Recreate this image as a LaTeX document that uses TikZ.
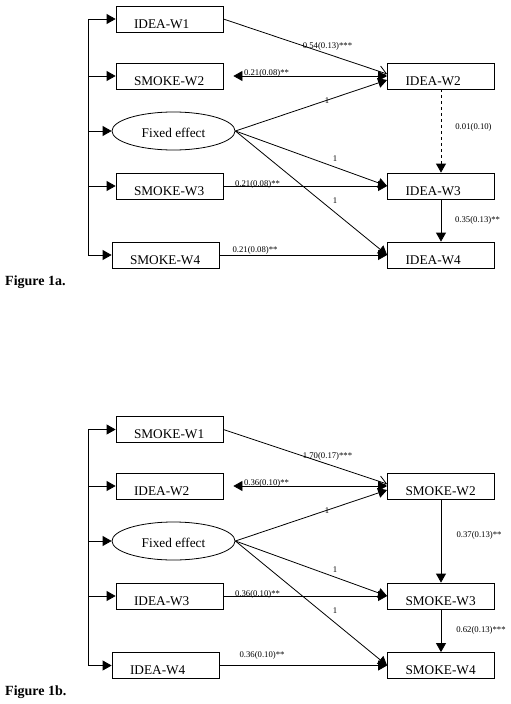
\documentclass[tikz,border=0pt]{standalone}
\usepackage{fontspec}
\setmainfont{Liberation Serif}
\usetikzlibrary{arrows.meta,shapes.geometric}
\newcommand{\vlab}[1]{\makebox[71pt][l]{#1}}
\tikzset{
  var/.style={draw, line width=0.8pt, minimum width=107pt, minimum height=26pt,
    inner xsep=18pt, inner ysep=4pt, text height=18pt, text depth=0pt,
    font=\fontsize{13.3}{14}\selectfont},
  fix/.style={draw, ellipse, line width=0.8pt, minimum width=123pt, minimum height=38pt,
    inner sep=0pt, text height=12pt, text depth=0pt, font=\fontsize{13.3}{14}\selectfont},
  coef/.style={inner sep=0pt, font=\fontsize{8.7}{10}\selectfont},
  path/.style={line width=0.8pt, -{Triangle[length=9pt,width=10pt]}},
  figlab/.style={anchor=base west, inner sep=0pt, font=\fontsize{14}{16}\selectfont\bfseries}
}
\begin{document}
\begin{tikzpicture}[x=1pt,y=-1pt]
    \useasboundingbox (0,0) rectangle (511,704);
    % Figure 1a
    \node[var] (IW1a) at (169.5,19) {\vlab{IDEA-W1}};
    \node[var] (SW2a) at (169.5,76) {\vlab{SMOKE-W2}};
    \node[fix] (FEa) at (173.5,131) {Fixed effect};
    \node[var] (SW3a) at (169.5,186) {\vlab{SMOKE-W3}};
    \node[var] (SW4a) at (165.5,255) {\vlab{SMOKE-W4}};
    \node[var] (IW2a) at (441,76) {\vlab{IDEA-W2}};
    \node[var] (IW3a) at (441,186) {\vlab{IDEA-W3}};
    \node[var] (IW4a) at (441,255) {\vlab{IDEA-W4}};
    \coordinate (Ta) at (88,19);
    \coordinate (Ba) at (88,255);
    \draw [line width=0.8pt] (Ta) -- (Ba);
    \draw [path] (Ta) -- (IW1a);
    \draw [path] (SW2a.west -| Ta) -- (SW2a.west);
    \draw [path] (FEa.west -| Ta) -- (FEa.west);
    \draw [path] (SW3a.west -| Ta) -- (SW3a.west);
    \draw [path] (Ba) -- (SW4a.west);
    \draw [line width=0.8pt, -{Straight Barb[length=8pt,width=11pt]}] (IW1a.east) -- ([yshift=2pt]IW2a.west);
    \draw [path, {Triangle[length=9pt,width=10pt]}-{Triangle[length=9pt,width=10pt]}, shorten <=10pt] (SW2a.east) -- (IW2a.west);
    \draw [path] (FEa.east) -- ([yshift=-4pt]IW2a.west);
    \draw [path] (FEa.east) -- (IW3a.west);
    \draw [path] (FEa.east) -- (IW4a.west);
    \draw [path] (SW3a.east) -- (IW3a.west);
    \draw [path] (SW4a.east) -- (IW4a.west);
    \draw [path, dashed] (IW2a.south) -- (IW3a.north);
    \draw [path] (IW3a.south) -- (IW4a.north);
    \node[coef] (c1a) at (327.5,46) {0.54(0.13)***};
    \node[coef] (c2a) at (266.5,73) {0.21(0.08)**};
    \node[coef] (c3a) at (327,101) {1};
    \node[coef] (c4a) at (335,159) {1};
    \node[coef] (c5a) at (335,201) {1};
    \node[coef] (c6a) at (257.5,184) {0.21(0.08)**};
    \node[coef] (c7a) at (255,250) {0.21(0.08)**};
    \node[coef] (c8a) at (473.5,127) {0.01(0.10)};
    \node[coef] (c9a) at (477.5,220) {0.35(0.13)**};
    \node[figlab] (La) at (5,285) {Figure 1a.};
    % Figure 1b
    \node[var] (SW1b) at (169.5,429.5) {\vlab{SMOKE-W1}};
    \node[var] (IW2b) at (169.5,486) {\vlab{IDEA-W2}};
    \node[fix] (FEb) at (173.5,541) {Fixed effect};
    \node[var] (IW3b) at (169.5,596) {\vlab{IDEA-W3}};
    \node[var] (IW4b) at (165.5,665.5) {\vlab{IDEA-W4}};
    \node[var] (SW2b) at (441,486) {\vlab{SMOKE-W2}};
    \node[var] (SW3b) at (441,596) {\vlab{SMOKE-W3}};
    \node[var] (SW4b) at (441,665.5) {\vlab{SMOKE-W4}};
    \coordinate (Tb) at (88,429.5);
    \coordinate (Bb) at (88,665.5);
    \draw [line width=0.8pt] (Tb) -- (Bb);
    \draw [path] (Tb) -- (SW1b);
    \draw [path] (IW2b.west -| Tb) -- (IW2b.west);
    \draw [path] (FEb.west -| Tb) -- (FEb.west);
    \draw [path] (IW3b.west -| Tb) -- (IW3b.west);
    \draw [path] (Bb) -- (IW4b.west);
    \draw [line width=0.8pt, -{Straight Barb[length=8pt,width=11pt]}] (SW1b.east) -- ([yshift=2pt]SW2b.west);
    \draw [path, {Triangle[length=9pt,width=10pt]}-{Triangle[length=9pt,width=10pt]}, shorten <=10pt] (IW2b.east) -- (SW2b.west);
    \draw [path] (FEb.east) -- ([yshift=-4pt]SW2b.west);
    \draw [path] (FEb.east) -- (SW3b.west);
    \draw [path] (FEb.east) -- (SW4b.west);
    \draw [path] (IW3b.east) -- (SW3b.west);
    \draw [path] (IW4b.east) -- (SW4b.west);
    \draw [path] (SW2b.south) -- (SW3b.north);
    \draw [path] (SW3b.south) -- (SW4b.north);
    \node[coef] (c1b) at (327.5,456) {1.70(0.17)***};
    \node[coef] (c2b) at (266.5,483) {0.36(0.10)**};
    \node[coef] (c3b) at (327,511) {1};
    \node[coef] (c4b) at (335,570) {1};
    \node[coef] (c5b) at (335,611) {1};
    \node[coef] (c6b) at (257.5,594) {0.36(0.10)**};
    \node[coef] (c7b) at (262,655) {0.36(0.10)**};
    \node[coef] (c8b) at (479,535) {0.37(0.13)**};
    \node[coef] (c9b) at (481,630) {0.62(0.13)***};
    \node[figlab] (Lb) at (5,695) {Figure 1b.};
\end{tikzpicture}
\end{document}
